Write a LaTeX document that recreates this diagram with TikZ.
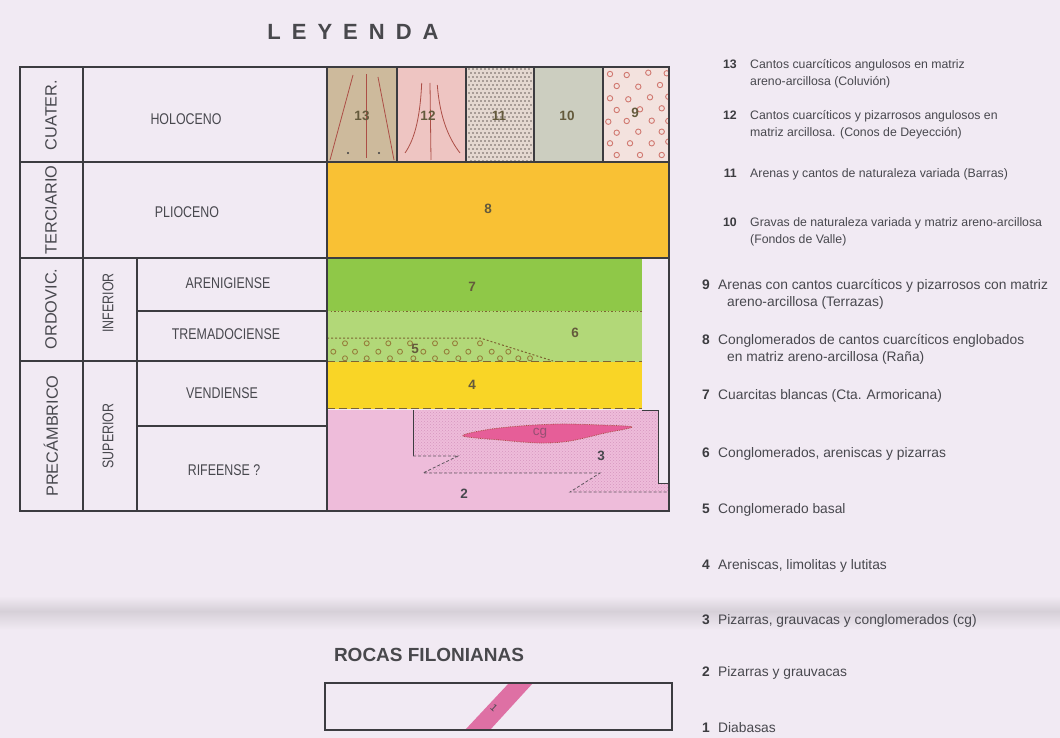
\documentclass[tikz,border=0pt]{standalone}
\usepackage{fontspec}
\setmainfont{Liberation Sans}
\newfontfamily\condf[FakeStretch=0.8]{Liberation Sans}
\usetikzlibrary{patterns}
\definecolor{bg}{RGB}{241,234,243}
\definecolor{ink}{RGB}{60,60,64}
\definecolor{txt}{RGB}{72,72,78}
\definecolor{numc}{RGB}{100,90,60}
\definecolor{c13}{RGB}{205,186,156}
\definecolor{c12}{RGB}{238,197,194}
\definecolor{c11}{RGB}{228,216,208}
\definecolor{c11d}{RGB}{105,96,92}
\definecolor{c10}{RGB}{204,206,192}
\definecolor{c9}{RGB}{243,226,222}
\definecolor{c9c}{RGB}{208,120,112}
\definecolor{c8}{RGB}{249,193,52}
\definecolor{c7}{RGB}{143,200,72}
\definecolor{c6}{RGB}{178,216,120}
\definecolor{c5c}{RGB}{150,128,60}
\definecolor{c4}{RGB}{249,213,38}
\definecolor{c2}{RGB}{238,188,218}
\definecolor{c3p}{RGB}{214,150,190}
\definecolor{cgc}{RGB}{230,94,152}
\definecolor{cgt}{RGB}{150,80,115}
\definecolor{dikec}{RGB}{222,112,164}
\definecolor{redl}{RGB}{172,78,70}
\definecolor{dashc}{RGB}{125,100,50}
\definecolor{bandc}{RGB}{214,208,216}
\definecolor{titc}{RGB}{72,72,76}
\tikzset{
  tframe/.style={draw=ink, line width=1.1pt},
  lab/.style={font=\condf\fontsize{15.5}{18}\selectfont, text=txt, inner sep=0pt},
  era/.style={font=\fontsize{16.3}{19}\selectfont, text=txt, rotate=90, inner sep=0pt},
  unum/.style={font=\bfseries\fontsize{13.5}{16}\selectfont, text=numc, inner sep=0pt},
  numA/.style={anchor=base east, inner sep=0pt, font=\bfseries\fontsize{12.3}{15}\selectfont, text=ink},
  txtA/.style={anchor=base west, inner sep=0pt, font=\fontsize{12.3}{15}\selectfont, text=txt},
  numB/.style={anchor=base east, inner sep=0pt, font=\bfseries\fontsize{13.8}{16}\selectfont, text=ink},
  txtB/.style={anchor=base west, inner sep=0pt, font=\fontsize{13.8}{16}\selectfont, text=txt},
  pebble/.style={draw=c5c, line width=0.9pt},
  ring/.style={draw=c9c, line width=0.9pt},
}
\begin{document}
\begin{tikzpicture}[x=1pt,y=-1pt]
\useasboundingbox (0,0) rectangle (1060,738);
\fill[bg] (0,0) rectangle (1060,738);
\shade[top color=bg, bottom color=bandc] (0,596) rectangle (1060,611);
\shade[top color=bandc, bottom color=bg] (0,611) rectangle (1060,630);

% ---------- coloured units ----------
\fill[c13] (327,67) rectangle (397,162);
\fill[c12] (397,67) rectangle (466,162);
\fill[c11] (466,67) rectangle (534,162);
\fill[c10] (534,67) rectangle (603,162);
\fill[c9]  (603,67) rectangle (669,162);
\fill[c8]  (327,162) rectangle (669,258);
\fill[c7]  (327,258) rectangle (642,311);
\fill[c6]  (327,311) rectangle (642,362);
\fill[c4]  (327,362) rectangle (642,409);
\fill[c2] (327,410) -- (658,410) -- (658,483) -- (669,483) -- (669,511) -- (327,511) -- cycle;
\fill[pattern=crosshatch dots, pattern color=c3p] (413,410) -- (658,410) -- (658,483) -- (669,483) -- (669,492) -- (570,492) -- (600,473) -- (423,473) -- (458,456) -- (413,456) -- cycle;

% unit 13 and 12 lines
\draw[redl, line width=0.8pt] (353,75) -- (330,160);
\draw[redl, line width=0.8pt] (366,74) -- (366,158);
\draw[redl, line width=0.8pt] (378,77) -- (394,160);
\fill[ink] (348,153) circle (1.1pt);
\fill[ink] (379,153) circle (1.1pt);
\draw[redl, line width=0.8pt] (421.7,83) .. controls (420,120) and (414,140) .. (405,153);
\draw[redl, line width=0.8pt] (430,83) -- (431,160);
\draw[redl, line width=0.8pt] (437.3,85) .. controls (440,120) and (450,140) .. (460,153);

% unit 11 dots
\foreach \i in {0,...,15} \foreach \j in {0,...,23} {
  \fill[c11d] ({469+\i*4+mod(\j,2)*2},{69+\j*4}) circle (0.8pt);
}

% unit 9 rings
\begin{scope}
\clip (603,67) rectangle (669,162);
\foreach \p/\q in {610/74,626.7/75,648.3/72.7,666.7/73.3,616.7/86,638.3/86.7,660/85,610/98.3,628.3/99.3,650/97.3,668.3/96.7,616.7/110,640/109.3,661.7/108.3,608.3/121.7,626.7/121,651.7/120.7,668.3/121,616.7/132.7,638.3/131.7,661.7/131.7,610/143.3,630/143.3,651.7/143.3,668.3/141.7,616.7/155,640/155,661.7/155}
  \draw[ring] (\p,\q) circle (2.7pt);
\end{scope}

% unit 5 pebbles
\foreach \p/\q in {345/343.3,366.7/343.3,388.3/343.3,410/343.3,435/343.3,455/343.3,480/343.3,
  333.3/351.7,355/351.7,378.3/351.7,400/351.7,423.3/351.7,446.7/351.7,468.3/351.7,491.7/351.7,508.3/351.7,
  345/358.3,366.7/358.3,390/358.3,413.3/358.3,435/358.3,458.3/358.3,480/358.3,500/358.3,518.3/358.3,530/358.3}
  \draw[pebble] (\p,\q) circle (2.5pt);

% cg lens
\draw[fill=cgc, draw=redl, densely dotted, line width=0.8pt] plot[smooth cycle, tension=0.55]
  coordinates {(463,436) (485,430) (520,426) (560,424) (600,425) (632,427) (605,433) (570,441) (540,443) (500,440)};

% contacts
\draw[dashc, line width=1pt, dash pattern=on 1.4pt off 2.2pt] (327,311) -- (642,311);
\draw[dashc, line width=1pt, dash pattern=on 2pt off 2pt] (327,338) -- (480,338) -- (553,361);
\draw[dashc, line width=1.3pt, dash pattern=on 8pt off 4pt] (327,361.5) -- (642,361.5);
\draw[dashc, line width=1.3pt, dash pattern=on 8pt off 4pt] (327,408.5) -- (642,408.5);
\draw[ink, line width=0.8pt] (642,410) -- (658,410) -- (658,483) -- (669,483);
\draw[ink, line width=0.8pt] (413,410) -- (413,456);
\draw[ink!80!c2, line width=0.8pt, dash pattern=on 3pt off 2pt] (413,456) -- (458,456) -- (423,473) -- (600,473) -- (570,492) -- (669,492);

% ---------- table frame ----------
\draw[tframe] (20,67) rectangle (669,511);
\draw[tframe] (83,67) -- (83,511);
\draw[tframe] (137,258) -- (137,511);
\draw[tframe] (327,67) -- (327,511);
\draw[tframe] (20,162) -- (669,162);
\draw[tframe] (20,258) -- (669,258);
\draw[tframe] (20,361) -- (327,361);
\draw[tframe] (137,311) -- (327,311);
\draw[tframe] (137,426) -- (327,426);
\foreach \x in {397,466,534,603} \draw[tframe] (\x,67) -- (\x,162);

% ---------- table texts ----------
\node[era] (cuater) at (51,115) {CUATER.};
\node[era] (terc) at (51,210) {TERCIARIO};
\node[era] (ordo) at (51,309) {ORDOVIC.};
\node[era] (prec) at (51,436) {PRECÁMBRICO};
\node[lab, rotate=90] (infer) at (108,303) {INFERIOR};
\node[lab, rotate=90] (super) at (108,436) {SUPERIOR};
\node[lab] (holo) at (186,119) {HOLOCENO};
\node[lab] (plio) at (187,212) {PLIOCENO};
\node[lab] (areni) at (228,283) {ARENIGIENSE};
\node[lab] (trema) at (226,334) {TREMADOCIENSE};
\node[lab] (vend) at (222,393) {VENDIENSE};
\node[lab] (rife) at (224,470) {RIFEENSE ?};

\node[unum] (u13) at (362,116) {13};
\node[unum] (u12) at (428,116) {12};
\node[unum] (u11) at (499,116) {11};
\node[unum] (u10) at (567,116) {10};
\node[unum] (u9) at (635,113) {9};
\node[unum] (u8) at (488,209) {8};
\node[unum] (u7) at (472,287) {7};
\node[unum] (u6) at (575,333) {6};
\node[unum] (u5) at (415,349) {5};
\node[unum] (u4) at (472,385) {4};
\node[unum, text=cgt, font=\fontsize{13.5}{16}\selectfont] (ucg) at (540,433) {cg};
\node[unum, text=txt] (u3) at (601,456) {3};
\node[unum, text=txt] (u2) at (464,494) {2};

% ---------- title ----------
\node[font=\bfseries\fontsize{22}{26}\selectfont, text=titc] (title) at (353,32)
  {L\kern11pt E\kern11pt Y\kern11pt E\kern11pt N\kern11pt D\kern11pt A};

% ---------- rocas filonianas ----------
\node[font=\bfseries\fontsize{19}{22}\selectfont, text=titc] (rocas) at (429,655) {ROCAS FILONIANAS};
\fill[bg] (325,683) rectangle (672,730);
\fill[dikec] (465,730) -- (490,730) -- (533,683) -- (509,683) -- cycle;
\draw[tframe] (325,683) rectangle (672,730);
\node[unum, text=txt, font=\fontsize{10}{12}\selectfont, rotate=-43] (u1) at (494,708) {1};

% ---------- legend ----------
\node[numA] (n13) at (737,68.4) {13};
\node[txtA] (t13a) at (750,68.4) {Cantos cuarcíticos angulosos en matriz};
\node[txtA] (t13b) at (750,85.4) {areno-arcillosa (Coluvión)};
\node[numA] (n12) at (737,119.4) {12};
\node[txtA] (t12a) at (750,119.4) {Cantos cuarcíticos y pizarrosos angulosos en};
\node[txtA] (t12b) at (750,136.4) {matriz arcillosa. (Conos de Deyección)};
\node[numA] (n11) at (737,177.4) {11};
\node[txtA] (t11) at (750,177.4) {Arenas y cantos de naturaleza variada (Barras)};
\node[numA] (n10) at (737,226.4) {10};
\node[txtA] (t10a) at (750,226.4) {Gravas de naturaleza variada y matriz areno-arcillosa};
\node[txtA] (t10b) at (750,243.4) {(Fondos de Valle)};

\node[numB] (n9) at (710,289) {9};
\node[txtB] (t9a) at (718,289) {Arenas con cantos cuarcíticos y pizarrosos con matriz};
\node[txtB] (t9b) at (727,306) {areno-arcillosa (Terrazas)};
\node[numB] (n8) at (710,344) {8};
\node[txtB] (t8a) at (718,344) {Conglomerados de cantos cuarcíticos englobados};
\node[txtB] (t8b) at (727,361) {en matriz areno-arcillosa (Raña)};
\node[numB] (n7) at (710,399) {7};
\node[txtB] (t7) at (718,399) {Cuarcitas blancas (Cta. Armoricana)};
\node[numB] (n6) at (710,457) {6};
\node[txtB] (t6) at (718,457) {Conglomerados, areniscas y pizarras};
\node[numB] (n5) at (710,513) {5};
\node[txtB] (t5) at (718,513) {Conglomerado basal};
\node[numB] (n4) at (710,569) {4};
\node[txtB] (t4) at (718,569) {Areniscas, limolitas y lutitas};
\node[numB] (n3) at (710,624) {3};
\node[txtB] (t3) at (718,624) {Pizarras, grauvacas y conglomerados (cg)};
\node[numB] (n2) at (710,676) {2};
\node[txtB] (t2) at (718,676) {Pizarras y grauvacas};
\node[numB] (n1) at (710,732) {1};
\node[txtB] (t1) at (718,732) {Diabasas};
\end{tikzpicture}
\end{document}
